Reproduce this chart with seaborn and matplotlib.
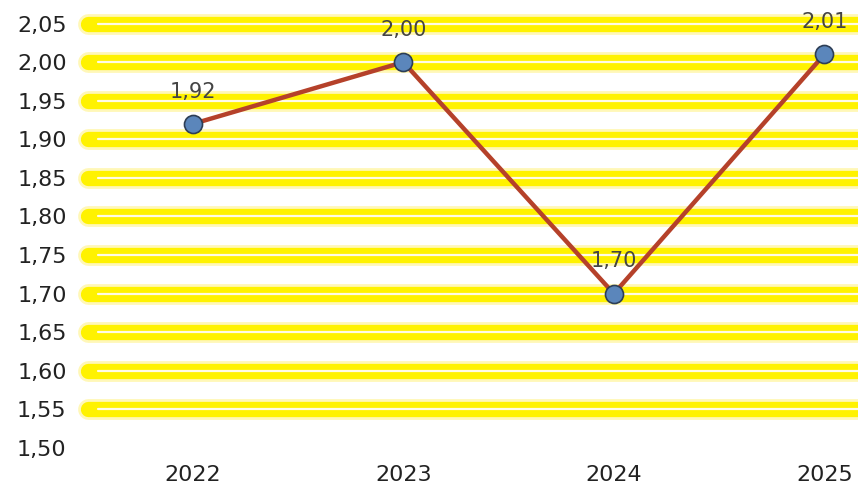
import matplotlib
matplotlib.use("Agg")
import matplotlib.pyplot as plt
import seaborn as sns
import pandas as pd

# data
years = [2022, 2023, 2024, 2025]
values = [1.92, 2.00, 1.70, 2.01]
yticks = [1.50, 1.55, 1.60, 1.65, 1.70, 1.75, 1.80, 1.85, 1.90, 1.95, 2.00, 2.05]

df = pd.DataFrame({"year": years, "value": values})

sns.set_style("white")
plt.rcParams['font.family'] = ['DejaVu Sans']

fig = plt.figure(figsize=(8.58, 4.86), dpi=100)
ax = fig.add_axes([75 / 858, 38 / 486, 1 - 75 / 858, (448 - 12) / 486])

# yellow glowing gridlines (no line at 1.50)
for t in yticks[1:]:
    ax.axhline(t, xmin=0.017, xmax=1.0, color="#fff59a", lw=15, alpha=0.7,
               solid_capstyle="round", zorder=0)
    ax.axhline(t, xmin=0.017, xmax=1.0, color="#fff200", lw=11,
               solid_capstyle="round", zorder=0.5)
    ax.axhline(t, xmin=0.03, xmax=1.0, color="#fffbe6", lw=1.6, zorder=0.6)

sns.lineplot(data=df, x="year", y="value", ax=ax, color="#b5412a", lw=3.2,
             marker="o", markersize=13, markerfacecolor="#5b86bb",
             markeredgecolor="#2d3e55", markeredgewidth=1.2, zorder=3)

for x, y in zip(years, values):
    ax.annotate(f"{y:.2f}".replace(".", ","), (x, y), xytext=(0, 16),
                textcoords="offset points", ha="center", va="bottom",
                fontsize=15, color="#444444", zorder=4)

ax.set_xlim(2021.44, 2025.16)
ax.set_ylim(1.50, 2.065)
ax.set_yticks(yticks)
ax.set_yticklabels([f"{t:.2f}".replace(".", ",") for t in yticks])
ax.set_xticks(years)
ax.set_xticklabels([str(y) for y in years])
ax.tick_params(axis="both", length=0, labelsize=16, colors="#222222")
ax.tick_params(axis="x", pad=12)
ax.tick_params(axis="y", pad=6)
ax.set_xlabel("")
ax.set_ylabel("")
for s in ax.spines.values():
    s.set_visible(False)

fig.savefig("out.png", dpi=100)
